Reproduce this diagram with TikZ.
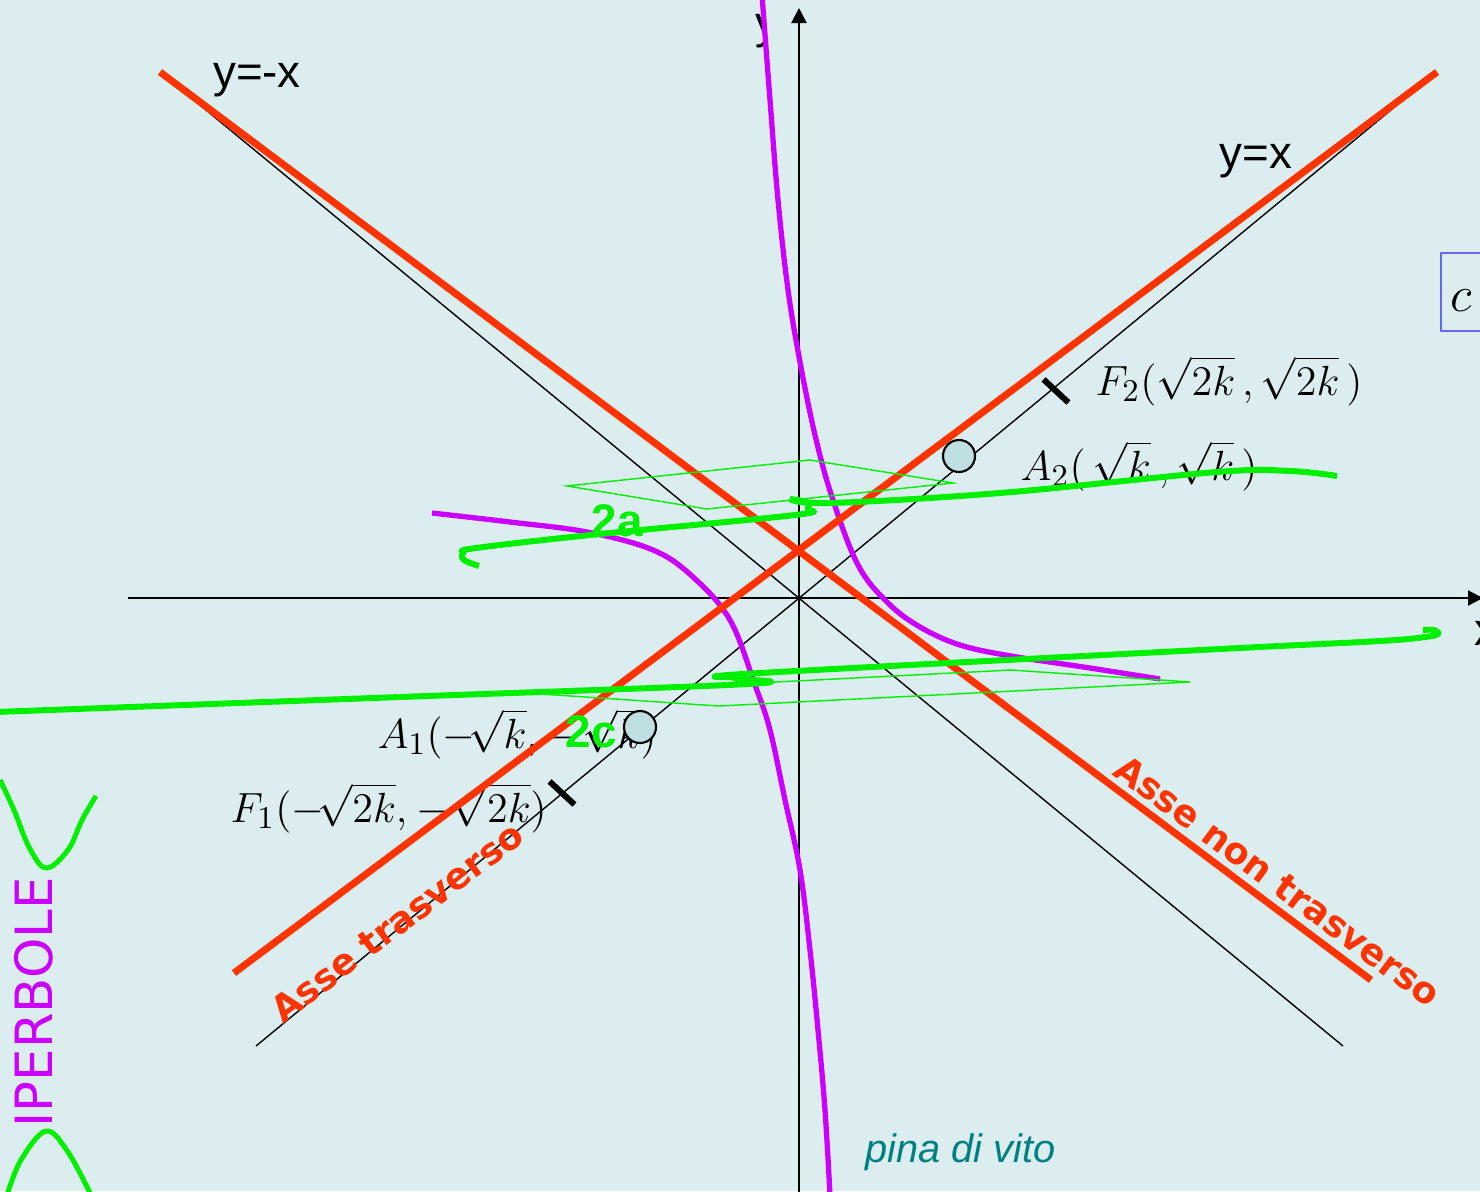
\documentclass[tikz,border=0pt]{standalone}
\usepackage{fontspec}
\usepackage{tikz}
\usetikzlibrary{arrows.meta}
\newfontfamily\labelsans{Liberation Sans}
\newfontfamily\assesans{DejaVu Sans}
\definecolor{slidebg}{HTML}{DBEDEF}
\definecolor{asseorange}{HTML}{FF3300}
\definecolor{iperviolet}{HTML}{CC00FF}
\definecolor{bracegreen}{HTML}{00F000}
\definecolor{vertexblue}{HTML}{BEE0E2}
\definecolor{boxblue}{HTML}{6666FF}
\definecolor{signteal}{HTML}{008080}

\begin{document}
\begin{tikzpicture}[x=0.1mm,y=-0.1mm,
  every node/.style={inner sep=0pt},
  axis/.style={draw=black,line width=0.6pt,-{Triangle[length=1.5mm,width=1.5mm]}},
  bisector/.style={draw=black,line width=0.4pt},
  asse/.style={draw=asseorange,line width=2pt},
  ramo/.style={draw=iperviolet,line width=1.5pt},
  brace/.style={draw=bracegreen,line width=1.7pt,line join=round},
  guide/.style={draw=bracegreen,line width=0.4pt},
  vertex/.style={circle,draw=black,line width=0.6pt,fill=vertexblue,minimum size=3.2mm},
  fuoco/.style={fill=black,minimum width=3.4mm,minimum height=0.6mm},
  eq/.style={font=\fontsize{12.5}{14}\selectfont,anchor=base west},
  retta/.style={font=\labelsans\fontsize{13}{15}\selectfont,anchor=base},
  asselabel/.style={font=\assesans\bfseries\fontsize{10.4}{12}\selectfont,text=asseorange},
  misura/.style={font=\labelsans\bfseries\fontsize{13}{15}\selectfont,text=bracegreen}
]
  \fill[slidebg] (0,0) rectangle (1480,1191);
  \useasboundingbox (0,0) rectangle (1480,1191);
  \clip (0,0) rectangle (1480,1191);
  % assi e bisettrici
  \coordinate (O) at (799,598);
  \coordinate (xl) at (128,598);
  \coordinate (xr) at (1483,598);
  \coordinate (yb) at (799,1195);
  \coordinate (yt) at (799,8);
  \coordinate (b1l) at (256,1046);
  \coordinate (b1r) at (1420,86);
  \coordinate (b2l) at (195,101);
  \coordinate (b2r) at (1343,1046);
  \draw[bisector] (b1l) -- (b1r);
  \draw[bisector] (b2l) -- (b2r);
  \draw[axis] (xl) -- (xr);
  \draw[axis] (yb) -- (yt);
  \node[retta] (ym) at (257,88) {y=-x};
  \node[retta] (yp) at (1256,168) {y=x};
  \node[retta,anchor=base west] (xlab) at (1474,645) {x};
  \begin{scope}
    \clip (740,0) rectangle (764,60);
    \node[retta] (ylab) at (767,38) {y};
  \end{scope}
  % coordinate di vertici e fuochi
  \node[eq] (F2lab) at (1095,395) {$F_2(\sqrt{2k}\,,\sqrt{2k}\,)$};
  \node[eq] (A2lab) at (1020,480) {$A_2(\,\sqrt{k}\,,\sqrt{k}\,)$};
  \node[eq] (A1lab) at (377,748) {$A_1(-\!\sqrt{k}{,}-\!\sqrt{k})$};
  \node[eq] (F1lab) at (230,822) {$F_1(-\!\sqrt{2k}{,}-\!\sqrt{2k})$};
  % rami dell'iperbole
  \draw[ramo] plot[smooth,tension=0.6] coordinates {(762,-5) (770,100) (778,200) (788,290) (800,362) (815,435) (832,497) (858,565) (888,603) (920,627) (960,645) (1011,656) (1090,668) (1160,679)};
  \draw[ramo] plot[smooth,tension=0.6] coordinates {(432,513) (510,522) (587,532) (653,550) (693,577) (730,620) (755,685) (770,730) (785,800) (800,870) (810,950) (818,1030) (825,1110) (830,1195)};
  % assi di simmetria
  \coordinate (t1) at (234,973);
  \coordinate (t2) at (1437,72);
  \coordinate (n1) at (160,72);
  \coordinate (n2) at (1371,980);
  \draw[asse] (t1) -- (t2);
  \draw[asse] (n1) -- (n2);
  % graffe 2a e 2c
  \draw[guide] (567,486) -- (810,460) -- (953,483) -- (707,509) -- cycle;
  \draw[guide] (541,694) -- (1011,670) -- (1190,682) -- (719,706) -- cycle;
  \draw[brace] plot[smooth,tension=0.6] coordinates {(479,566) (464,560) (463,553) (476,548) (600,534) (795,515) (808,509) (806,502) (790,499)};
  \draw[brace] plot[smooth,tension=0.6] coordinates {(790,499) (830,503) (1000,493) (1217,472) (1290,471) (1337,476)};
  \draw[brace] plot[smooth,tension=0.6] coordinates {(-5,712) (400,697) (748,684) (738,679) (730,677)};
  \draw[brace] plot[smooth,tension=0.6] coordinates {(730,677) (760,673) (1220,649) (1380,641) (1425,637) (1438,634) (1434,630) (1423,630)};
  \node[misura] (dista) at (617,521) {2a};
  \node[misura] (distc) at (591,732) {2c};
  % vertici e fuochi
  \node[vertex] (A2) at (959,456) {};
  \node[vertex] (A1) at (640,727) {};
  \node[fuoco,rotate=-43] (F2) at (1056,391) {};
  \node[fuoco,rotate=-43] (F1) at (562,793) {};
  % etichette
  \node[asselabel,rotate=37] (trasv) at (397,922) {Asse trasverso};
  \node[asselabel,rotate=-36.5] (nontrasv) at (1278,881) {Asse non trasverso};
  \node[font=\assesans\fontsize{14.6}{16}\selectfont,text=iperviolet,rotate=90,anchor=base west] (titolo) at (52,1128) {IPERBOLE};
  \draw[brace,line width=1.4pt] plot[smooth,tension=0.6] coordinates {(0,780) (14,810) (29,847) (46,868) (68,850) (82,820) (96,796)};
  \draw[brace,line width=1.4pt] plot[smooth,tension=0.6] coordinates {(7,1195) (21,1160) (46,1131) (68,1152) (91,1195)};
  \node[font=\labelsans\itshape\fontsize{11.3}{13}\selectfont,text=signteal,anchor=base west] (firma) at (865,1162) {pina di vito};
  \node[draw=boxblue,line width=0.5pt,fill=slidebg,anchor=north west,minimum width=6mm,minimum height=7.8mm] (cbox) at (1440,252) {};
  \node[font=\fontsize{15}{17}\selectfont] (cc) at (1461,301) {$c$};
\end{tikzpicture}
\end{document}
